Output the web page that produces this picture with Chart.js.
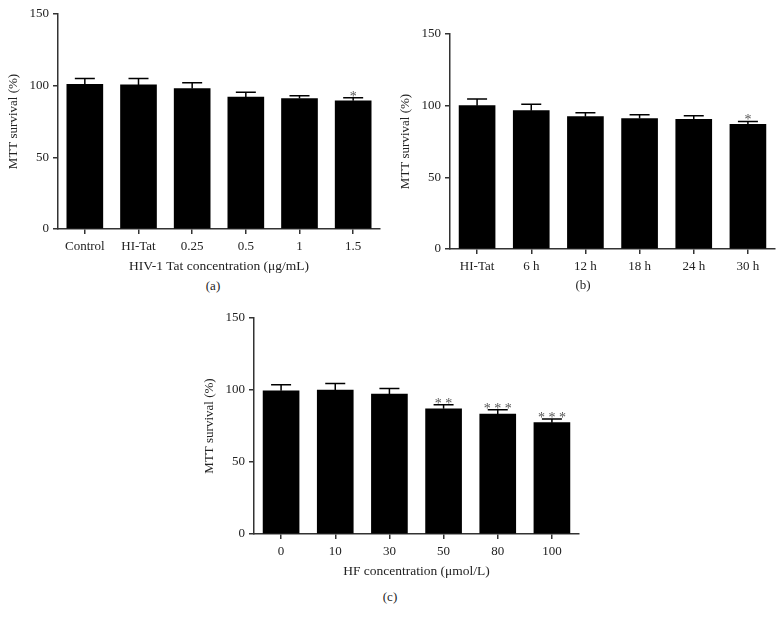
<!DOCTYPE html>
<html>
<head>
<meta charset="utf-8">
<script src="https://cdn.jsdelivr.net/npm/chart.js@4.4.1/dist/chart.umd.min.js"></script>
<style>
    body { margin: 0; background: #fff; }
    #wrap { position: relative; width: 783px; height: 624px; overflow: hidden; }
    canvas { position: absolute; }
    .cap { position: absolute; width: 40px; text-align: center; font: 13px "Liberation Serif", serif; color: #222; opacity: 0.99; }
</style>
</head>
<body>
<div id="wrap">
    <canvas id="chartA" width="390" height="275" style="left:0;top:0"></canvas>
    <canvas id="chartB" width="390" height="275" style="left:392px;top:20px"></canvas>
    <canvas id="chartC" width="390" height="276" style="left:196px;top:304px"></canvas>
    <div class="cap" style="left:193px;top:278px">(a)</div>
    <div class="cap" style="left:563px;top:277px">(b)</div>
    <div class="cap" style="left:370px;top:589px">(c)</div>
</div>
<script>
// panel (a): HIV-1 Tat concentration
const labelsA = ['Control', 'HI-Tat', '0.25', '0.5', '1', '1.5'];
const meanA = [101, 100.5, 98, 92, 91, 89.5];
const errA = [4, 4.5, 4, 3.4, 2, 2.1];
const starsA = ['', '', '', '', '', '*'];

// panel (b): time course
const labelsB = ['HI-Tat', '6 h', '12 h', '18 h', '24 h', '30 h'];
const meanB = [100, 96.5, 92.3, 91, 90.5, 87];
const errB = [4.7, 4.5, 2.7, 2.7, 2.5, 2];
const starsB = ['', '', '', '', '', '*'];

// panel (c): HF concentration
const labelsC = ['0', '10', '30', '50', '80', '100'];
const meanC = [99.5, 100, 97.2, 87, 83.3, 77.3];
const errC = [4.2, 4.5, 3.8, 2.8, 3, 2.6];
const starsC = ['', '', '', '**', '***', '***'];

const yTicks = [0, 50, 100, 150];

const FONT = '"Liberation Serif", "Times New Roman", serif';
const INK = '#222';
const AXIS = '#333';

// draws the upper error bar with cap and the significance stars
const errorBarPlugin = {
    id: 'errorBars',
    afterDatasetsDraw(chart, args, opts) {
        const ctx = chart.ctx;
        const meta = chart.getDatasetMeta(0);
        const y = chart.scales.y;
        ctx.save();
        ctx.strokeStyle = '#000';
        ctx.lineWidth = 1.5;
        meta.data.forEach((bar, i) => {
            const top = y.getPixelForValue(opts.mean[i] + opts.err[i]);
            const base = y.getPixelForValue(opts.mean[i]);
            ctx.beginPath();
            ctx.moveTo(bar.x, base);
            ctx.lineTo(bar.x, top);
            ctx.moveTo(bar.x - 10, top);
            ctx.lineTo(bar.x + 10, top);
            ctx.stroke();
            if (opts.stars[i]) {
                ctx.fillStyle = '#555';
                ctx.font = '14px ' + FONT;
                ctx.textAlign = 'center';
                ctx.textBaseline = 'alphabetic';
                ctx.fillText(opts.stars[i].split('').join(' '), bar.x, top + 3);
            }
        });
        ctx.restore();
    }
};

function makeChart(id, labels, mean, err, stars, xTitle, padRight) {
    return new Chart(document.getElementById(id), {
        type: 'bar',
        data: {
            labels: labels,
            datasets: [{
                data: mean,
                backgroundColor: '#000',
                borderWidth: 0,
                barThickness: 36
            }]
        },
        plugins: [errorBarPlugin],
        options: {
            responsive: false,
            animation: false,
            layout: { padding: { top: 14, right: padRight, bottom: 0, left: 0 } },
            plugins: {
                legend: { display: false },
                tooltip: { enabled: false },
                errorBars: { mean: mean, err: err, stars: stars }
            },
            scales: {
                x: {
                    grid: { display: true, drawOnChartArea: false, offset: false, color: AXIS, lineWidth: 1.5, tickLength: 5 },
                    border: { color: AXIS, width: 1.5 },
                    ticks: { color: INK, font: { family: FONT, size: 13 }, padding: 5, maxRotation: 0 },
                    title: {
                        display: !!xTitle,
                        text: xTitle,
                        color: INK,
                        font: { family: FONT, size: 13.5 },
                        padding: { top: 0, bottom: 0 }
                    },
                    afterFit(scale) { scale.height = 46; }
                },
                y: {
                    min: 0,
                    max: 150,
                    afterBuildTicks(scale) { scale.ticks = yTicks.map(v => ({ value: v })); },
                    grid: { display: true, drawOnChartArea: false, color: AXIS, lineWidth: 1.5, tickLength: 5 },
                    border: { color: AXIS, width: 1.5 },
                    ticks: { color: INK, font: { family: FONT, size: 13 }, padding: 4 },
                    title: {
                        display: true,
                        text: 'MTT survival (%)',
                        color: INK,
                        font: { family: FONT, size: 13 },
                        padding: { top: 6, bottom: 0 }
                    },
                    afterFit(scale) { scale.width = 58; }
                }
            }
        }
    });
}

makeChart('chartA', labelsA, meanA, errA, starsA, 'HIV-1 Tat concentration (\u03bcg/mL)', 10);
makeChart('chartB', labelsB, meanB, errB, starsB, '', 7);
makeChart('chartC', labelsC, meanC, errC, starsC, 'HF concentration (\u03bcmol/L)', 7);
</script>
</body>
</html>
